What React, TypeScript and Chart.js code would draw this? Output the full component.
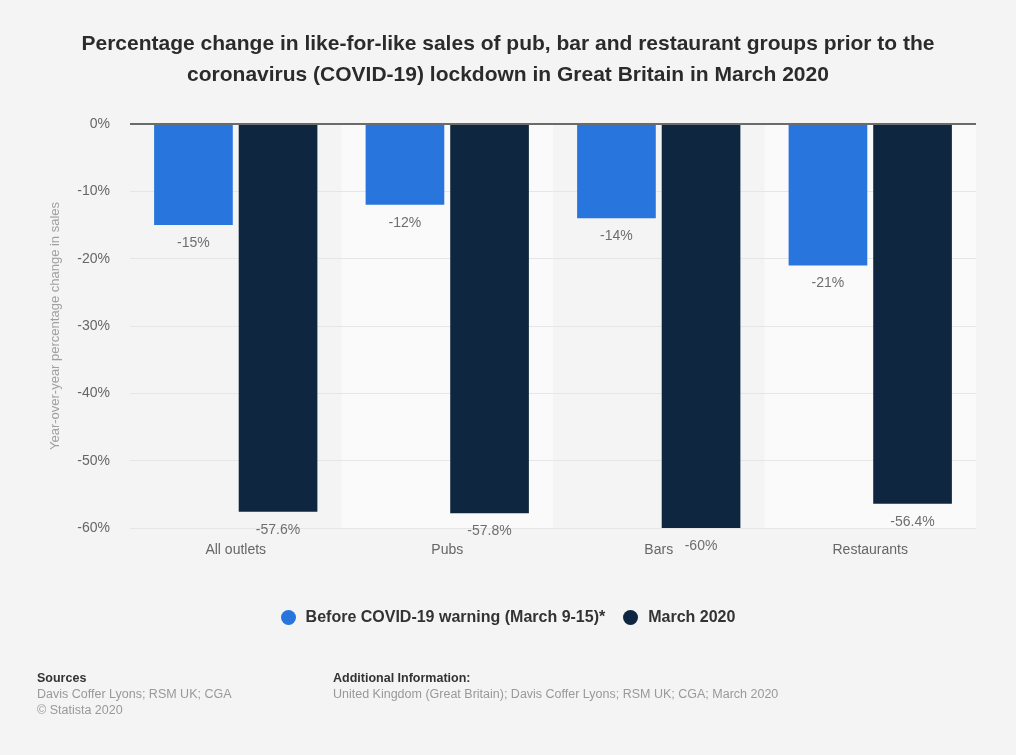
import React, { useEffect, useRef } from "react";
import { Chart, registerables } from "chart.js";

Chart.register(...registerables);

const categories = ["All outlets", "Pubs", "Bars", "Restaurants"];
const beforeWarning = [-15, -12, -14, -21];
const march2020 = [-57.6, -57.8, -60, -56.4];
const valueLabels1 = ["-15%", "-12%", "-14%", "-21%"];
const valueLabels2 = ["-57.6%", "-57.8%", "-60%", "-56.4%"];
const seriesNames = ["Before COVID-19 warning (March 9-15)*", "March 2020"];
const seriesColors = ["#2876dd", "#0f2640"];
const yTicks = { min: -60, max: 0, step: 10 };
const titleLines = [
  "Percentage change in like-for-like sales of pub, bar and restaurant groups prior to the",
  "coronavirus (COVID-19) lockdown in Great Britain in March 2020",
];
const yTitle = "Year-over-year percentage change in sales";

const FONT = "'Liberation Sans', Arial, Helvetica, sans-serif";

const bgPlugin = {
  id: "bgBands",
  beforeDraw(chart: any) {
    const { ctx, chartArea } = chart;
    ctx.save();
    ctx.fillStyle = "#f4f4f4";
    ctx.fillRect(0, 0, chart.width, chart.height);
    const n = categories.length;
    const w = (chartArea.right - chartArea.left) / n;
    for (let i = 0; i < n; i++) {
      if (i % 2 === 1) {
        ctx.fillStyle = "#fafafa";
        ctx.fillRect(chartArea.left + i * w, chartArea.top, w, chartArea.bottom - chartArea.top);
      }
    }
    ctx.restore();
  },
};

const labelPlugin = {
  id: "valueLabels",
  afterDatasetsDraw(chart: any) {
    const { ctx, chartArea, scales } = chart;
    ctx.save();
    const y0 = scales.y.getPixelForValue(0);
    ctx.strokeStyle = "#6b6b6b";
    ctx.lineWidth = 2;
    ctx.beginPath();
    ctx.moveTo(chartArea.left, y0);
    ctx.lineTo(chartArea.right, y0);
    ctx.stroke();
    ctx.font = `14px ${FONT}`;
    ctx.fillStyle = "#6e6e6e";
    ctx.textAlign = "center";
    ctx.textBaseline = "middle";
    const lbls = [valueLabels1, valueLabels2];
    chart.data.datasets.forEach((ds: any, di: number) => {
      const meta = chart.getDatasetMeta(di);
      meta.data.forEach((el: any, i: number) => {
        ctx.fillText(lbls[di][i], el.x, el.y + 18);
      });
    });
    ctx.restore();
  },
};

export default function App() {
  const ref = useRef<HTMLCanvasElement | null>(null);
  useEffect(() => {
    if (!ref.current) return;
    const chart = new Chart(ref.current, {
      type: "bar",
      data: {
        labels: categories,
        datasets: [
          {
            label: seriesNames[0],
            data: beforeWarning,
            backgroundColor: seriesColors[0],
            categoryPercentage: 0.8,
            barPercentage: 0.93,
          },
          {
            label: seriesNames[1],
            data: march2020,
            backgroundColor: seriesColors[1],
            categoryPercentage: 0.8,
            barPercentage: 0.93,
          },
        ],
      },
      options: {
        animation: false,
        responsive: false,
        devicePixelRatio: 1,
        layout: { padding: { left: 44, right: 40, top: 124, bottom: 0 } },
        plugins: {
          legend: { display: false },
          title: { display: false },
          tooltip: { enabled: false },
        },
        scales: {
          x: {
            grid: { display: false },
            border: { display: false },
            ticks: {
              color: "#666666",
              font: { family: FONT, size: 14 },
              padding: 6,
            },
            afterFit: (s: any) => {
              s.height = 227;
            },
          },
          y: {
            min: yTicks.min,
            max: yTicks.max,
            grid: { color: "#e6e6e6", drawTicks: false, lineWidth: 1 },
            border: { display: false },
            ticks: {
              stepSize: yTicks.step,
              color: "#666666",
              font: { family: FONT, size: 14 },
              padding: 20,
              callback: (v: any) => `${v}%`,
            },
            title: {
              display: true,
              text: yTitle,
              color: "#a0a0a0",
              font: { family: FONT, size: 13 },
              padding: 4,
            },
            afterFit: (s: any) => {
              s.width = 86;
            },
          },
        },
      },
      plugins: [bgPlugin, labelPlugin],
    } as any);
    return () => chart.destroy();
  }, []);

  return (
    <div
      style={{
        position: "absolute",
        left: 0,
        top: 0,
        width: 1016,
        height: 755,
        background: "#f4f4f4",
        fontFamily: FONT,
        overflow: "hidden",
      }}
    >
      <canvas ref={ref} width={1016} height={755} style={{ position: "absolute", left: 0, top: 0 }} />
      <div
        style={{
          position: "absolute",
          left: 0,
          top: 27,
          width: 1016,
          textAlign: "center",
          fontWeight: "bold",
          fontSize: 21,
          lineHeight: "31px",
          color: "#2b2b2b",
          whiteSpace: "nowrap",
        }}
      >
        {titleLines.map((t, i) => (
          <div key={i}>{t}</div>
        ))}
      </div>
      <div
        style={{
          position: "absolute",
          left: 0,
          top: 607,
          width: 1016,
          display: "flex",
          justifyContent: "center",
          alignItems: "center",
          fontWeight: "bold",
          fontSize: 16,
          color: "#333",
        }}
      >
        {seriesNames.map((n, i) => (
          <div key={i} style={{ display: "flex", alignItems: "center", marginRight: i === 0 ? 18 : 0 }}>
            <span
              style={{
                display: "inline-block",
                width: 15,
                height: 15,
                borderRadius: 8,
                background: seriesColors[i],
                marginRight: 10,
              }}
            />
            <span style={{ lineHeight: "20px" }}>{n}</span>
          </div>
        ))}
      </div>
      <div style={{ position: "absolute", left: 37, top: 670, fontSize: 12.5, lineHeight: "16px" }}>
        <div style={{ color: "#333", fontWeight: "bold" }}>Sources</div>
        <div style={{ color: "#999" }}>Davis Coffer Lyons; RSM UK; CGA</div>
        <div style={{ color: "#999" }}>© Statista 2020</div>
      </div>
      <div style={{ position: "absolute", left: 333, top: 670, fontSize: 12.5, lineHeight: "16px" }}>
        <div style={{ color: "#333", fontWeight: "bold" }}>Additional Information:</div>
        <div style={{ color: "#999" }}>
          United Kingdom (Great Britain); Davis Coffer Lyons; RSM UK; CGA; March 2020
        </div>
      </div>
    </div>
  );
}
